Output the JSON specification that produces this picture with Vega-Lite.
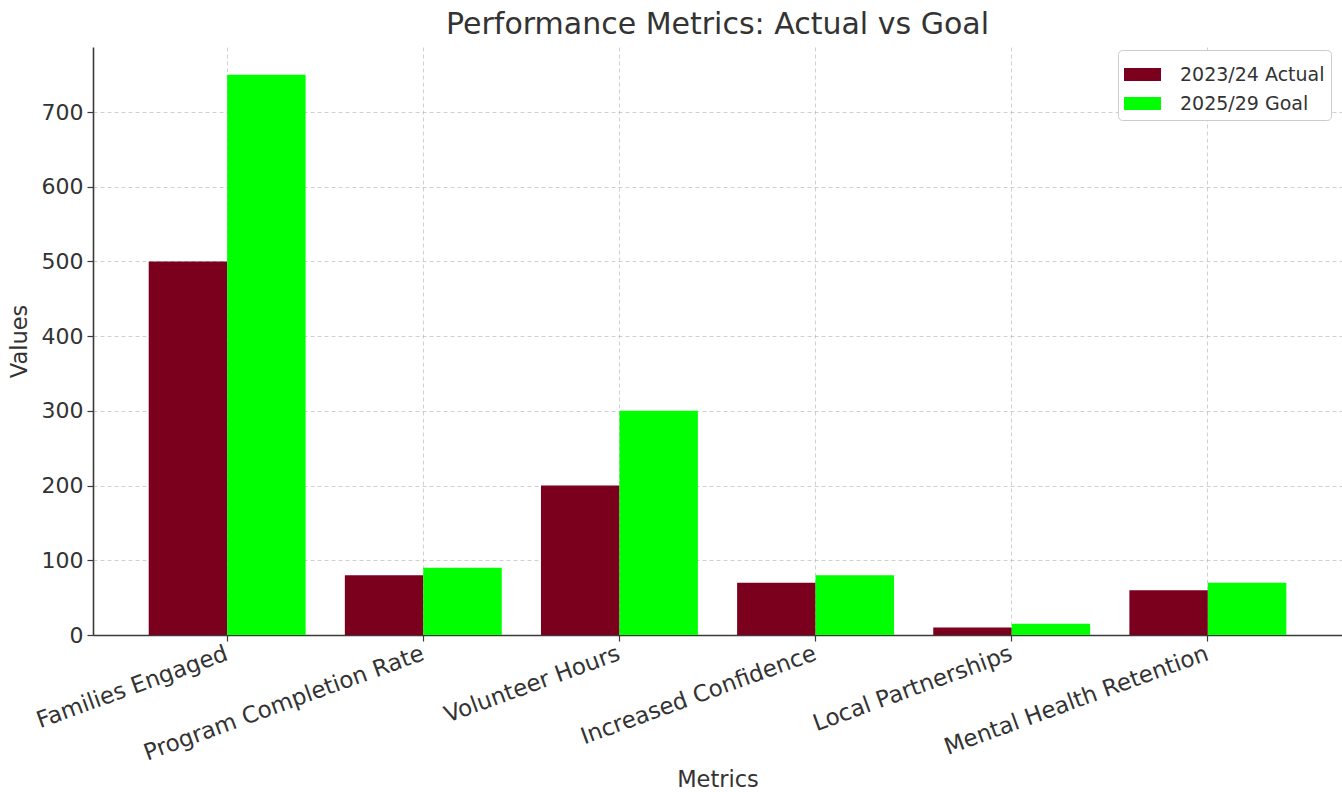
{
  "$schema": "https://vega.github.io/schema/vega-lite/v6.json",
  "autosize": "none",
  "width": 1249,
  "height": 588,
  "padding": {"left": 93, "top": 47, "right": 0, "bottom": 157},
  "background": "white",
  "config": {
    "view": {"stroke": null},
    "font": "DejaVu Sans",
    "axis": {
      "labelFont": "DejaVu Sans",
      "titleFont": "DejaVu Sans",
      "labelColor": "#333333",
      "titleColor": "#333333",
      "domainColor": "#3a3a3a",
      "tickColor": "#3a3a3a",
      "domainWidth": 1.6,
      "tickWidth": 1.2,
      "tickSize": 6,
      "labelFontSize": 22,
      "titleFontSize": 22.5,
      "titleFontWeight": "normal",
      "labelLimit": 0,
      "gridColor": "#b0b0b0",
      "gridDash": [4, 3],
      "gridOpacity": 0.6,
      "gridWidth": 1,
      "zindex": 1
    }
  },
  "title": {
    "text": "Performance Metrics: Actual vs Goal",
    "fontSize": 30,
    "fontWeight": "normal",
    "color": "#333333",
    "font": "DejaVu Sans",
    "anchor": "middle",
    "frame": "group",
    "baseline": "bottom",
    "offset": 6,
    "dy": 29
  },
  "data": {
    "values": [
      {"metric": "Families Engaged", "series": "2023/24 Actual", "value": 500},
      {"metric": "Families Engaged", "series": "2025/29 Goal", "value": 750},
      {"metric": "Program Completion Rate", "series": "2023/24 Actual", "value": 80},
      {"metric": "Program Completion Rate", "series": "2025/29 Goal", "value": 90},
      {"metric": "Volunteer Hours", "series": "2023/24 Actual", "value": 200},
      {"metric": "Volunteer Hours", "series": "2025/29 Goal", "value": 300},
      {"metric": "Increased Confidence", "series": "2023/24 Actual", "value": 70},
      {"metric": "Increased Confidence", "series": "2025/29 Goal", "value": 80},
      {"metric": "Local Partnerships", "series": "2023/24 Actual", "value": 10},
      {"metric": "Local Partnerships", "series": "2025/29 Goal", "value": 15},
      {"metric": "Mental Health Retention", "series": "2023/24 Actual", "value": 60},
      {"metric": "Mental Health Retention", "series": "2025/29 Goal", "value": 70}
    ]
  },
  "mark": {"type": "bar"},
  "encoding": {
    "x": {
      "field": "metric",
      "type": "nominal",
      "sort": null,
      "title": "Metrics",
      "scale": {"paddingInner": 0.2, "paddingOuter": 0.284},
      "axis": {
        "labelAngle": -20,
        "labelFontSize": 23,
        "labelAlign": "right",
        "labelBaseline": "top",
        "labelPadding": 1,
        "labelOffset": -4,
        "bandPosition": 0.5,
        "grid": true,
        "titlePadding": 4
      }
    },
    "xOffset": {
      "field": "series",
      "type": "nominal",
      "scale": {"paddingInner": 0, "paddingOuter": 0}
    },
    "y": {
      "field": "value",
      "type": "quantitative",
      "title": "Values",
      "scale": {"domain": [0, 787], "nice": false},
      "axis": {
        "values": [0, 100, 200, 300, 400, 500, 600, 700],
        "grid": true,
        "labelPadding": 4,
        "titlePadding": 10
      }
    },
    "color": {
      "field": "series",
      "type": "nominal",
      "scale": {"domain": ["2023/24 Actual", "2025/29 Goal"], "range": ["#7a001e", "#00ff00"]},
      "legend": {
        "title": null,
        "orient": "none",
        "legendX": 1025,
        "legendY": 3,
        "symbolType": "M-1,-0.35L1,-0.35L1,0.35L-1,0.35Z",
        "symbolSize": 1369,
        "symbolStrokeWidth": 0,
        "labelFontSize": 19,
        "labelFont": "DejaVu Sans",
        "labelColor": "#333333",
        "labelOffset": 19,
        "rowPadding": 0,
        "padding": 6,
        "strokeColor": "#cccccc",
        "fillColor": "white",
        "cornerRadius": 4
      }
    }
  }
}
